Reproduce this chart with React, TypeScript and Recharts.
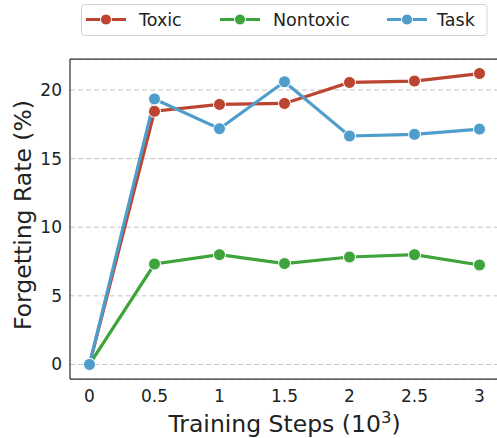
import React from "react";
import { LineChart, Line, XAxis, YAxis, CartesianGrid } from "recharts";

const steps = [0, 0.5, 1, 1.5, 2, 2.5, 3];
const toxic = [0, 18.45, 18.95, 19.02, 20.55, 20.65, 21.2];
const nontoxic = [0, 7.32, 8.0, 7.35, 7.83, 8.0, 7.25];
const task = [0, 19.35, 17.18, 20.6, 16.65, 16.77, 17.15];
const xTicks = [0, 0.5, 1, 1.5, 2, 2.5, 3];
const yTicks = [0, 5, 10, 15, 20];

const seriesNames = ["Toxic", "Nontoxic", "Task"];
const seriesKeys = ["toxic", "nontoxic", "task"];
const seriesColors = ["#BB4530", "#3FA33B", "#4E9DCB"];

const data = steps.map((s, i) => ({
  step: s,
  toxic: toxic[i],
  nontoxic: nontoxic[i],
  task: task[i],
}));

const FONT = "'DejaVu Sans', sans-serif";
const legendTextX = [139, 273, 437];
const legendLineX = [86, 220, 387];

function LegendBox() {
  return (
    <svg
      width={497}
      height={40}
      style={{ position: "absolute", left: 0, top: 0 }}
    >
      <rect
        x={81.5}
        y={4.5}
        width={405.5}
        height={31}
        rx={3}
        fill="#fff"
        stroke="#d0d0d0"
        strokeWidth={1}
      />
      {seriesNames.map((name, i) => (
        <g key={name}>
          <line
            x1={legendLineX[i]}
            x2={legendLineX[i] + 40}
            y1={19.5}
            y2={19.5}
            stroke={seriesColors[i]}
            strokeWidth={3.2}
          />
          <circle
            cx={legendLineX[i] + 20}
            cy={19.5}
            r={5.5}
            fill={seriesColors[i]}
            stroke="#fff"
            strokeWidth={1}
          />
          <text
            x={legendTextX[i]}
            y={26}
            fontSize={17.5}
            fontFamily={FONT}
            fill="#222"
          >
            {name}
          </text>
        </g>
      ))}
    </svg>
  );
}

export default function App() {
  return (
    <div
      style={{
        position: "absolute",
        left: 0,
        top: 0,
        width: 497,
        height: 438,
        overflow: "hidden",
        background: "#fff",
      }}
    >
      <LineChart
        width={500}
        height={438}
        data={data}
        margin={{ top: 58, right: 1, bottom: 58, left: 69 }}
      >
        <CartesianGrid
          vertical={false}
          stroke="#c4c4c4"
          strokeDasharray="5 3"
          strokeWidth={1}
        />
        <XAxis
          dataKey="step"
          type="number"
          domain={[-0.15, 3.15]}
          ticks={xTicks}
          allowDataOverflow
          height={1}
          tickLine={false}
          tickMargin={5}
          tickFormatter={(v) => String(v)}
          axisLine={{ stroke: "#333", strokeWidth: 1.25 }}
          tick={{ fontSize: 17, fill: "#222", fontFamily: FONT }}
          label={{
            content: (p: any) => {
              const vb = p.viewBox || {};
              return (
                <text
                  x={vb.x + vb.width / 2}
                  y={vb.y + 52.5}
                  textAnchor="middle"
                  fontSize={23.5}
                  fontFamily={FONT}
                  fill="#222"
                >
                  <tspan>Training Steps (10</tspan>
                  <tspan dy={-9} fontSize={16.5}>3</tspan>
                  <tspan dy={9}>)</tspan>
                </text>
              );
            },
          }}
        />
        <XAxis
          xAxisId="top"
          dataKey="step"
          type="number"
          domain={[-0.15, 3.15]}
          allowDataOverflow
          orientation="top"
          height={1}
          tick={false}
          tickLine={false}
          axisLine={{ stroke: "#333", strokeWidth: 1.25 }}
        />
        <YAxis
          type="number"
          domain={[-1.06, 22.26]}
          ticks={yTicks}
          allowDataOverflow
          width={1}
          tickLine={false}
          axisLine={{ stroke: "#333", strokeWidth: 1.25 }}
          tick={{ fontSize: 17, fill: "#222", fontFamily: FONT }}
          label={{
            content: (p: any) => {
              const vb = p.viewBox || {};
              const cx = 31;
              const cy = vb.y + vb.height / 2 - 4;
              return (
                <text
                  x={cx}
                  y={cy}
                  transform={`rotate(-90 ${cx} ${cy})`}
                  textAnchor="middle"
                  fontSize={23.5}
                  fontFamily={FONT}
                  fill="#222"
                >
                  Forgetting Rate (%)
                </text>
              );
            },
          }}
        />
        {seriesKeys.map((k, i) => (
          <Line
            key={k}
            type="linear"
            dataKey={k}
            name={seriesNames[i]}
            stroke={seriesColors[i]}
            strokeWidth={3.2}
            dot={{ r: 6, fill: seriesColors[i], stroke: "#fff", strokeWidth: 1 }}
            activeDot={false}
            isAnimationActive={false}
          />
        ))}
      </LineChart>
      <LegendBox />
    </div>
  );
}
